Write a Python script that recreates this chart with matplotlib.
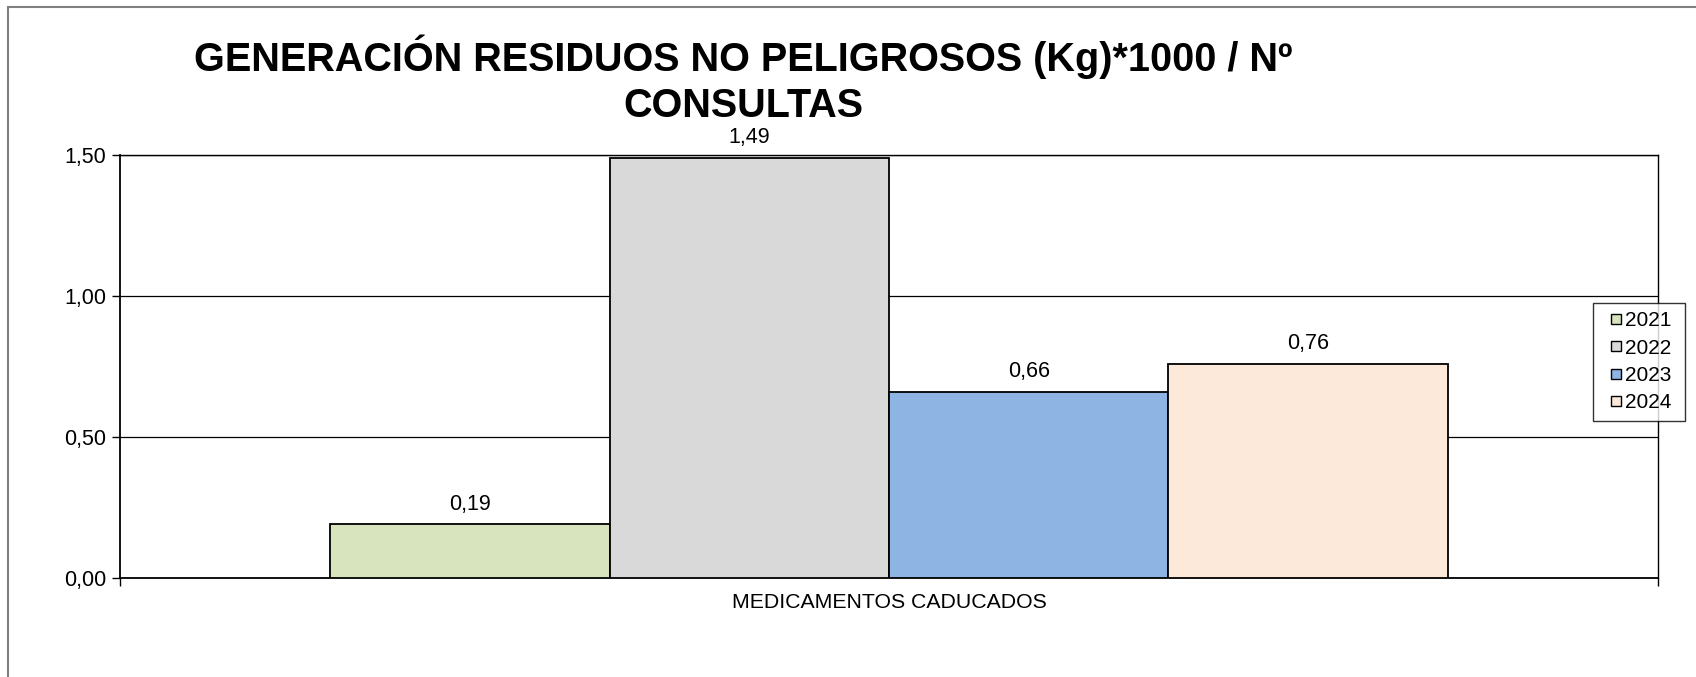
import matplotlib
matplotlib.use('Agg')
from matplotlib import pyplot as plt
from matplotlib.patches import Rectangle
from matplotlib.lines import Line2D

plt.rcParams['font.family'] = ['Liberation Sans', 'DejaVu Sans']

category = 'MEDICAMENTOS CADUCADOS'
years = ['2021', '2022', '2023', '2024']
values = [0.19, 1.49, 0.66, 0.76]
colors = ['#D7E4BD', '#D9D9D9', '#8EB4E3', '#FDE9D9']
title = 'GENERACIÓN RESIDUOS NO PELIGROSOS (Kg)*1000 / Nº\nCONSULTAS'

W, H = 1696, 677
fig = plt.figure(figsize=(W / 100, H / 100), dpi=100)
ax = fig.add_axes([120 / W, 1 - 578 / H, (1658 - 120) / W, (578 - 155) / H])

# figure border (grey, runs off the right and bottom edges)
fig.patches.append(Rectangle((8 / W, -0.1), 1.2, 1 - 7 / H + 0.1, transform=fig.transFigure,
                             fill=False, edgecolor='#7f7f7f', lw=1.5))

bw = 0.1816
offsets = [(i - 1.5) * bw for i in range(len(years))]
for off, v, c, y in zip(offsets, values, colors, years):
    ax.bar(off, v, width=bw, color=c, edgecolor='black', linewidth=1.3, label=y, zorder=3)
    ax.text(off, v + 0.035, f'{v:.2f}'.replace('.', ','), ha='center', va='bottom', fontsize=15.5)

ax.set_xlim(-0.5, 0.5)
ax.set_ylim(0, 1.5)
ax.set_yticks([0, 0.5, 1.0, 1.5])
ax.set_yticklabels([f'{t:.2f}'.replace('.', ',') for t in [0, 0.5, 1.0, 1.5]], fontsize=15.5)
ax.set_xticks([-0.5, 0.5])
ax.set_xticklabels(['', ''])
ax.tick_params(axis='both', direction='out', length=6, width=1, color='black', pad=4)
ax.yaxis.grid(True, color='black', linewidth=0.9, zorder=0)
for s in ax.spines.values():
    s.set_color('black')
    s.set_linewidth(1.3)
ax.spines['top'].set_linewidth(1.0)
ax.spines['right'].set_linewidth(1.0)

fig.text(889 / W, 1 - 603 / H, category, ha='center', va='center', fontsize=15.3)
fig.text(743 / W, 1 - 80 / H, title, ha='center', va='center', fontsize=28.5,
         fontweight='bold', linespacing=1.28)

handles = [Line2D([], [], marker='s', linestyle='none', markersize=7.5,
                  markerfacecolor=c, markeredgecolor='black', markeredgewidth=1.0)
           for c in colors]
leg = fig.legend(handles, [y + ' ' for y in years], loc='upper left',
                 bbox_to_anchor=(1593 / W, 1 - 303 / H),
                 fontsize=15, frameon=True, fancybox=False, handlelength=1.43,
                 handletextpad=-0.3, labelspacing=0.4, borderpad=0.4, borderaxespad=0)
leg.get_frame().set_edgecolor('black')
leg.get_frame().set_linewidth(1.0)

fig.savefig('out.png', dpi=100)
